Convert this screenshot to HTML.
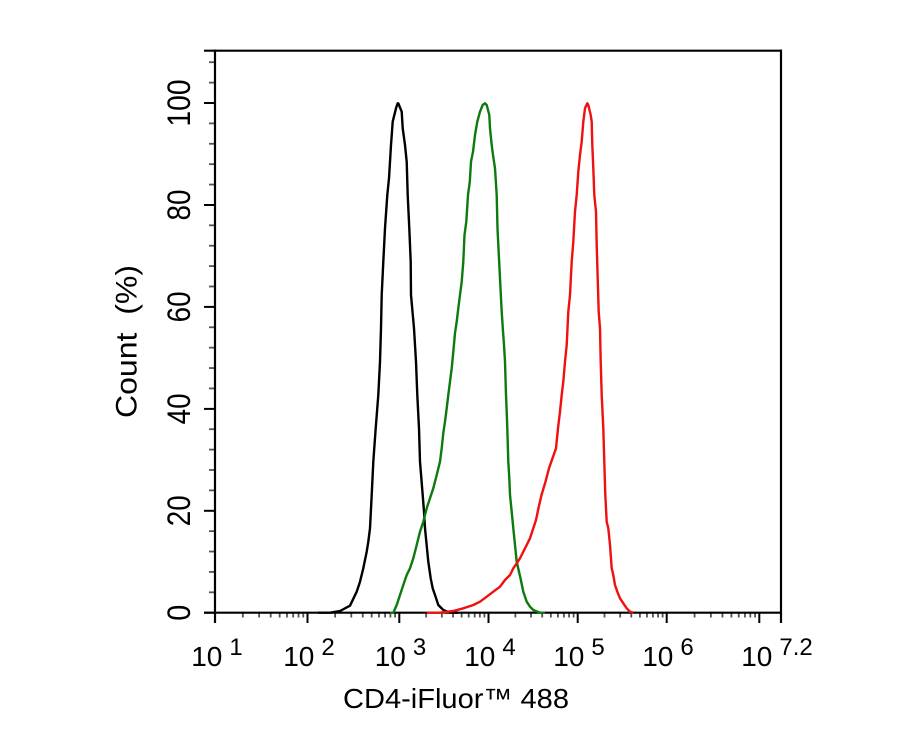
<!DOCTYPE html>
<html>
<head>
<meta charset="utf-8">
<style>
  html, body { margin: 0; padding: 0; background: #fff; }
  svg { display: block; }
  text { font-family: "Liberation Sans", Arial, sans-serif; fill: #000; }
</style>
</head>
<body>
<svg width="913" height="730" viewBox="0 0 913 730" xmlns="http://www.w3.org/2000/svg">
  <rect width="913" height="730" fill="#fff"/>

  <g id="yminor" stroke="#555" stroke-width="1.8"></g>
  <g id="xminor" stroke="#555" stroke-width="1.8"></g>

  <g stroke="#000" stroke-width="2">
    <line x1="204" y1="612.7" x2="215" y2="612.7"/>
    <line x1="204" y1="510.8" x2="215" y2="510.8"/>
    <line x1="204" y1="408.9" x2="215" y2="408.9"/>
    <line x1="204" y1="306.9" x2="215" y2="306.9"/>
    <line x1="204" y1="205.0" x2="215" y2="205.0"/>
    <line x1="204" y1="103.0" x2="215" y2="103.0"/>
    <line x1="215" y1="612.7" x2="215" y2="623"/>
    <line x1="307.5" y1="612.7" x2="307.5" y2="623"/>
    <line x1="399.3" y1="612.7" x2="399.3" y2="623"/>
    <line x1="488.5" y1="612.7" x2="488.5" y2="623"/>
    <line x1="577.7" y1="612.7" x2="577.7" y2="623"/>
    <line x1="666.7" y1="612.7" x2="666.7" y2="623"/>
    <line x1="759.3" y1="612.7" x2="759.3" y2="623"/>
    <line x1="781" y1="612.7" x2="781" y2="623"/>
  </g>

  <g stroke="#000" stroke-width="2.2" fill="none">
    <line x1="204" y1="50.7" x2="782" y2="50.7"/>
    <line x1="204" y1="612.7" x2="782" y2="612.7"/>
    <line x1="215" y1="49.6" x2="215" y2="623"/>
    <line x1="781" y1="49.6" x2="781" y2="623"/>
  </g>

  <g fill="none" stroke-width="2.4" stroke-linejoin="round">
    <polyline stroke="#000" points="318,612.7 330,612.7 340,611 350,605.7 356.7,591.7 360,581.7 363.3,568.3 366.7,551.7 368.3,541.7 370,528.3 371.7,495 373.3,461.7 375.7,428.3 378.3,395 380,361.7 381,328.3 381.7,295 383.3,261.7 385,228.3 387.3,195 389,178.3 391,145 392.7,121.7 396,108.3 397.7,103.3 398.3,103.3 401.7,111.7 402.7,128.3 405,145 406.7,161.7 407.7,195 409.3,228.3 410.7,261.7 411,295 414,328.3 416,361.7 417.3,395 419,428.3 420,461.7 422.7,495 424,511.7 425,528.3 428.3,561.7 430.7,578.3 432.7,588.3 435,595 438.3,605 443.3,610 450,612.7 458.3,612.7"/>
    <polyline stroke="#0d7a0d" points="390,612.7 393.3,612.7 396.7,605 400,595 403.3,585 406.7,575 410,568.3 413.3,558.3 416.7,545 420,531.7 423.3,521.7 426.7,508.3 430,498.3 433.3,488.3 436.7,475 440,461.7 441.7,448.3 443.3,433 445,421.7 446.7,408.3 448.3,395 450,381.7 451.7,368.3 453.3,351.7 455,333 456.7,321.7 458.3,308.3 460,295 461.7,281.7 463.3,261.7 464.5,235 466.3,221.7 468,195 469.8,181.7 471,161.7 473,151.7 475,135 477.3,121.7 480,111.7 482.7,105 485,103.3 486.7,105 489.3,115 490,128.3 491.7,145 493,155 495,168.3 496.7,195 497.5,228.3 498.3,245 500,278.3 501.7,311.7 502.8,328.3 504,345 505,361.7 506,395 506.7,411.7 507.3,428.3 508.3,461.7 509.3,478.3 510,495 511.7,511.7 513.3,528.3 515,545 516.7,561.7 520.5,578.3 523.3,591.7 526.7,601.7 530,606.7 533.3,610 540,612.7 545,612.7"/>
    <polyline stroke="#f01010" points="426.7,612.7 440,612.7 453.3,611 463.3,608.3 473.3,605 480,601.7 486.7,596.7 493.3,591.7 500,586.7 505,580 510,575 513.3,568.3 516.7,563.3 520,558.3 523.3,551.7 526.7,545 530,538.3 533.3,528.3 536,520 538.5,508 541.5,495 545.5,481.7 549,468.3 552.5,458.3 556,448.3 558,428.3 560,411.7 561.7,395 563.3,381.7 565,361.7 566.7,345 568.3,311.7 570,295 571.7,261.7 573.3,241.7 575,211.7 576.7,195 578.3,171.7 580,155 581.7,141.7 583.3,121.7 585,108.3 587.3,103.3 588.3,105 590.7,115 591.7,121.7 592.3,145 593.3,168.3 594.3,195 596,211.7 596.7,245 597.7,278.3 598.7,311.7 600,328.3 600.7,361.7 601.7,395 603.3,428.3 604.3,461.7 605.3,495 606.7,521.7 608.3,528.3 610,545 611.7,568.3 613.3,575 615,585 617.3,591.7 620,598.3 623.3,603.3 626.7,608.3 630,611.7 633.3,612.7"/>
  </g>

  <g font-size="32">
    <text transform="translate(190,612.7) rotate(-90)" text-anchor="middle" textLength="16" lengthAdjust="spacingAndGlyphs">0</text>
    <text transform="translate(190,510.8) rotate(-90)" text-anchor="middle" textLength="31" lengthAdjust="spacingAndGlyphs">20</text>
    <text transform="translate(190,408.9) rotate(-90)" text-anchor="middle" textLength="31" lengthAdjust="spacingAndGlyphs">40</text>
    <text transform="translate(190,306.9) rotate(-90)" text-anchor="middle" textLength="31" lengthAdjust="spacingAndGlyphs">60</text>
    <text transform="translate(190,205.0) rotate(-90)" text-anchor="middle" textLength="31" lengthAdjust="spacingAndGlyphs">80</text>
    <text transform="translate(190,103.0) rotate(-90)" text-anchor="middle" textLength="47" lengthAdjust="spacingAndGlyphs">100</text>
  </g>

  <g font-size="28">
    <text x="217" y="666" text-anchor="middle">10<tspan dx="7" dy="-11" font-size="24">1</tspan></text>
    <text x="309" y="666" text-anchor="middle">10<tspan dx="7" dy="-11" font-size="24">2</tspan></text>
    <text x="400.5" y="666" text-anchor="middle">10<tspan dx="7" dy="-11" font-size="24">3</tspan></text>
    <text x="490" y="666" text-anchor="middle">10<tspan dx="7" dy="-11" font-size="24">4</tspan></text>
    <text x="579" y="666" text-anchor="middle">10<tspan dx="7" dy="-11" font-size="24">5</tspan></text>
    <text x="668" y="666" text-anchor="middle">10<tspan dx="7" dy="-11" font-size="24">6</tspan></text>
    <text x="777" y="666" text-anchor="middle">10<tspan dx="7" dy="-11" font-size="24">7.2</tspan></text>
  </g>

  <text x="456" y="708" text-anchor="middle" font-size="28" textLength="226" lengthAdjust="spacingAndGlyphs">CD4-iFluor™ 488</text>
  <text transform="translate(136.5,341.5) rotate(-90)" text-anchor="middle" font-size="30" textLength="153" lengthAdjust="spacingAndGlyphs">Count&#160;&#160;(%)</text>
</svg>
<script>
(function () {
  var ns = "http://www.w3.org/2000/svg";
  var ym = document.getElementById("yminor");
  var vals = [4,8,12,16,24,28,32,36,44,48,52,56,64,68,72,76,84,88,92,96,104,108];
  vals.forEach(function (v) {
    var y = 612.7 - v * 5.097;
    var l = document.createElementNS(ns, "line");
    l.setAttribute("x1", 209); l.setAttribute("x2", 215);
    l.setAttribute("y1", y); l.setAttribute("y2", y);
    ym.appendChild(l);
  });
  var xm = document.getElementById("xminor");
  var dec = [215, 307.5, 399.3, 488.5, 577.7, 666.7, 759.3];
  for (var i = 0; i < dec.length - 1; i++) {
    var w = dec[i + 1] - dec[i];
    for (var k = 2; k <= 9; k++) {
      var x = dec[i] + Math.log10(k) * w;
      var l = document.createElementNS(ns, "line");
      l.setAttribute("x1", x); l.setAttribute("x2", x);
      l.setAttribute("y1", 613); l.setAttribute("y2", 617.5);
      xm.appendChild(l);
    }
  }
})();
</script>
</body>
</html>
